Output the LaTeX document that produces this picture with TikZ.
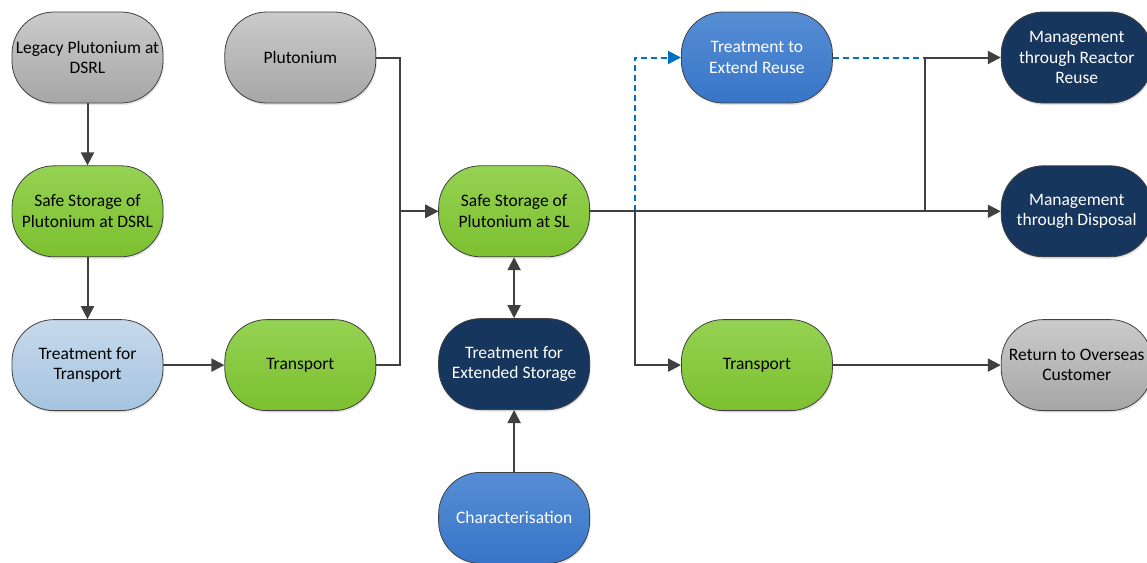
\documentclass[tikz,border=0pt]{standalone}
\usepackage{fontspec}
\setmainfont{Carlito}
\usepackage{tikz}
\usetikzlibrary{arrows.meta}
\usetikzlibrary{positioning}
\usetikzlibrary{calc}
\usetikzlibrary{shadows}
\definecolor{linegray}{RGB}{64,64,64}
\definecolor{grayT}{RGB}{203,203,203}
\definecolor{grayB}{RGB}{166,166,166}
\definecolor{greenT}{RGB}{149,210,82}
\definecolor{greenB}{RGB}{124,192,48}
\definecolor{lblueT}{RGB}{198,217,236}
\definecolor{lblueB}{RGB}{166,196,224}
\definecolor{navy}{RGB}{23,54,93}
\definecolor{mblueT}{RGB}{86,142,212}
\definecolor{mblueB}{RGB}{56,117,200}
\definecolor{dashblue}{RGB}{0,112,192}
\tikzstyle{block} = [draw = linegray, line width = 0.8pt, rectangle, rounded corners = 42pt, minimum height = 91pt, minimum width = 151pt, inner sep = 0pt, align = center, font = \fontsize{17.5}{20.5}\selectfont, drop shadow = {opacity = 0.2, shadow xshift = 1pt, shadow yshift = -2pt}]
\tikzstyle{graybox} = [block, top color = grayT, bottom color = grayB]
\tikzstyle{greenbox} = [block, top color = greenT, bottom color = greenB]
\tikzstyle{lbluebox} = [block, top color = lblueT, bottom color = lblueB]
\tikzstyle{navybox} = [block, fill = navy, text = white]
\tikzstyle{mbluebox} = [block, top color = mblueT, bottom color = mblueB, text = white]
\tikzstyle{arrow} = [line width = 2pt, draw = linegray, -{Triangle[length = 13pt, width = 13pt]}]
\tikzstyle{twoway} = [line width = 2pt, draw = linegray, {Triangle[length = 13pt, width = 13pt]}-{Triangle[length = 13pt, width = 13pt]}]
\tikzstyle{dashline} = [line width = 2pt, draw = dashblue, dash pattern = on 6pt off 4pt]
\tikzstyle{dasharrow} = [dashline, -{Triangle[length = 13pt, width = 13pt, fill = dashblue]}]
\begin{document}
\begin{tikzpicture}

			\useasboundingbox (0,0) rectangle (1147pt, -562pt);

			% left column
			\node[graybox] (legacy) at (87.5pt, -57.5pt) {Legacy Plutonium at\\DSRL};
			\node[greenbox, below = 62pt of legacy] (safedsrl) {Safe Storage of\\Plutonium at DSRL};
			\node[lbluebox, below = 62pt of safedsrl] (treattrans) {Treatment for\\Transport};

			% second column
			\node[graybox, right = 61pt of legacy] (plutonium) {Plutonium};
			\node[greenbox, right = 61pt of treattrans] (transport1) {Transport};
			\coordinate[right = 24pt of plutonium] (jpl);
			\coordinate[right = 24pt of transport1] (jtr);

			% middle column
			\node[greenbox, below right = 62pt and 62pt of plutonium] (safesl) {Safe Storage of\\Plutonium at SL};
			\node[navybox, below = 61pt of safesl] (treatext) {Treatment for\\Extended Storage};
			\node[mbluebox, below = 62pt of treatext] (charact) {Characterisation};
			\coordinate[right = 45pt of safesl] (jsl);

			% fourth column
			\node[mbluebox, above right = 62pt and 91pt of safesl] (extreuse) {Treatment to\\Extend Reuse};
			\node[greenbox, below right = 62pt and 91pt of safesl] (transport2) {Transport};
			\coordinate[right = 92pt of extreuse] (jreuse);

			% right column
			\node[navybox, right = 168pt of extreuse] (reactor) {Management\\through Reactor\\Reuse};
			\node[navybox, below = 62pt of reactor] (disposal) {Management\\through Disposal};
			\node[graybox, right = 168pt of transport2] (returnos) {Return to Overseas\\Customer};

			% Connect all nodes defined above
			\draw[arrow] (legacy) -- (safedsrl);
			\draw[arrow] (safedsrl) -- (treattrans);
			\draw[arrow] (treattrans) -- (transport1);
			\draw[arrow] (plutonium.east) -- (jpl) |- (safesl.west);
			\draw[arrow] (transport1.east) -- (jtr) |- (safesl.west);
			\draw[twoway] (safesl) -- (treatext);
			\draw[arrow] (charact) -- (treatext);
			\draw[dasharrow] (jsl) |- (extreuse.west);
			\draw[dashline] (extreuse.east) -- (jreuse);
			\draw[arrow] (safesl.east) -- (disposal.west);
			\draw[arrow] (jreuse |- safesl.east) -- (jreuse) -- (reactor.west);
			\draw[arrow] (jsl) |- (transport2.west);
			\draw[arrow] (transport2) -- (returnos);

\end{tikzpicture}
\end{document}
